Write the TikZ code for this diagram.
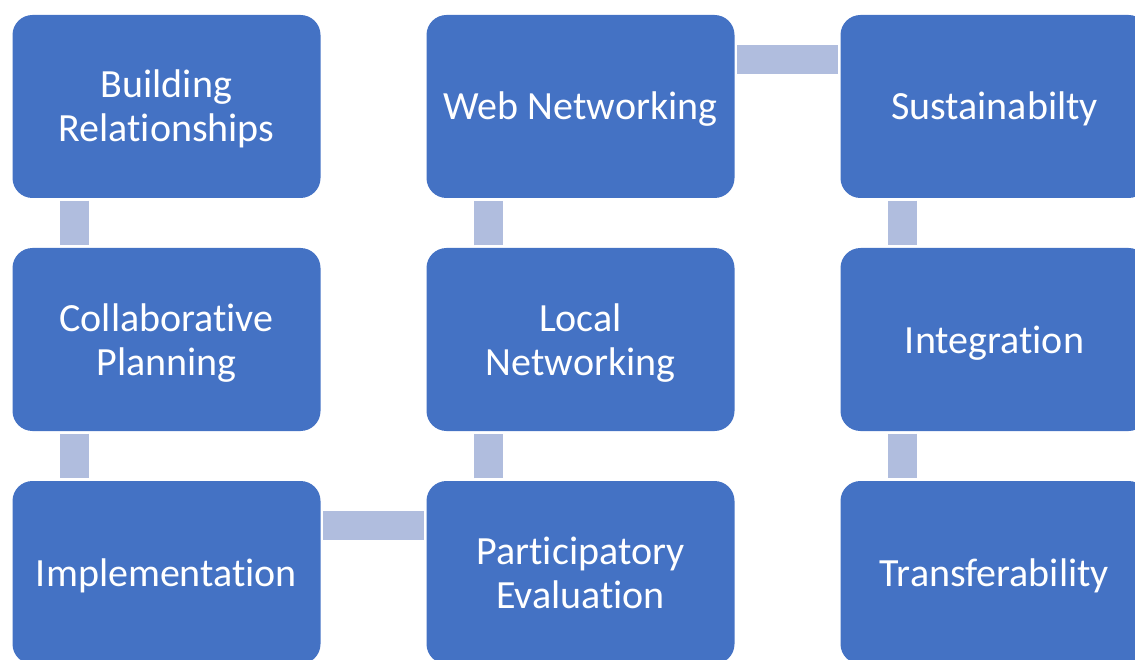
\documentclass[tikz,border=0pt]{standalone}
\usepackage{fontspec}
\setmainfont{Carlito}[Ligatures=CommonOff]
\definecolor{boxblue}{HTML}{4472C4}
\definecolor{linkblue}{HTML}{B0BDDE}
% fixed line metrics so that every label is centred the same way
\newcommand\topstrut{\rule{0pt}{36pt}}
\newcommand\botstrut{\rule[-9pt]{0pt}{9pt}}
\begin{document}
\begin{tikzpicture}[x=1pt,y=-1pt,
  stepbox/.style={draw=none, fill=boxblue, rounded corners=20pt,
    minimum width=308pt, minimum height=183pt, inner sep=0pt,
    text=white, align=center, font=\fontsize{40}{44}\selectfont},
  link/.style={draw=linkblue, line width=29pt, shorten >=2.5pt, shorten <=2.5pt}]
\useasboundingbox (0,0) rectangle (1135,660);
\clip (0,0) rectangle (1135,660);

% process steps, three columns
\node[stepbox] (br) at (166.5,106.5) {\topstrut Building\\Relationships\botstrut};
\node[stepbox] (cp) at (166.5,339.5) {\topstrut Collaborative\\Planning\botstrut};
\node[stepbox] (im) at (166.5,572.5) {\topstrut Implementation\botstrut};
\node[stepbox] (pe) at (580.5,572.5) {\topstrut Participatory\\Evaluation\botstrut};
\node[stepbox] (ln) at (580.5,339.5) {\topstrut Local\\Networking\botstrut};
\node[stepbox] (wn) at (580.5,106.5) {\topstrut Web Networking\botstrut};
\node[stepbox] (su) at (994.5,106.5) {\topstrut Sustainabilty\botstrut};
\node[stepbox] (in) at (994.5,339.5) {\topstrut Integration\botstrut};
\node[stepbox] (tr) at (994.5,572.5) {\topstrut Transferability\botstrut};

% vertical links
\draw[link] ([xshift=62pt]br.south west) -- ([xshift=62pt]cp.north west);
\draw[link] ([xshift=62pt]cp.south west) -- ([xshift=62pt]im.north west);
\draw[link] ([xshift=62pt]pe.north west) -- ([xshift=62pt]ln.south west);
\draw[link] ([xshift=62pt]ln.north west) -- ([xshift=62pt]wn.south west);
\draw[link] ([xshift=62pt]su.south west) -- ([xshift=62pt]in.north west);
\draw[link] ([xshift=62pt]in.south west) -- ([xshift=62pt]tr.north west);

% horizontal links
\draw[link] ([yshift=-45pt]im.north east) -- ([yshift=-45pt]pe.north west);
\draw[link] ([yshift=-44.5pt]wn.north east) -- ([yshift=-44.5pt]su.north west);
\end{tikzpicture}
\end{document}
